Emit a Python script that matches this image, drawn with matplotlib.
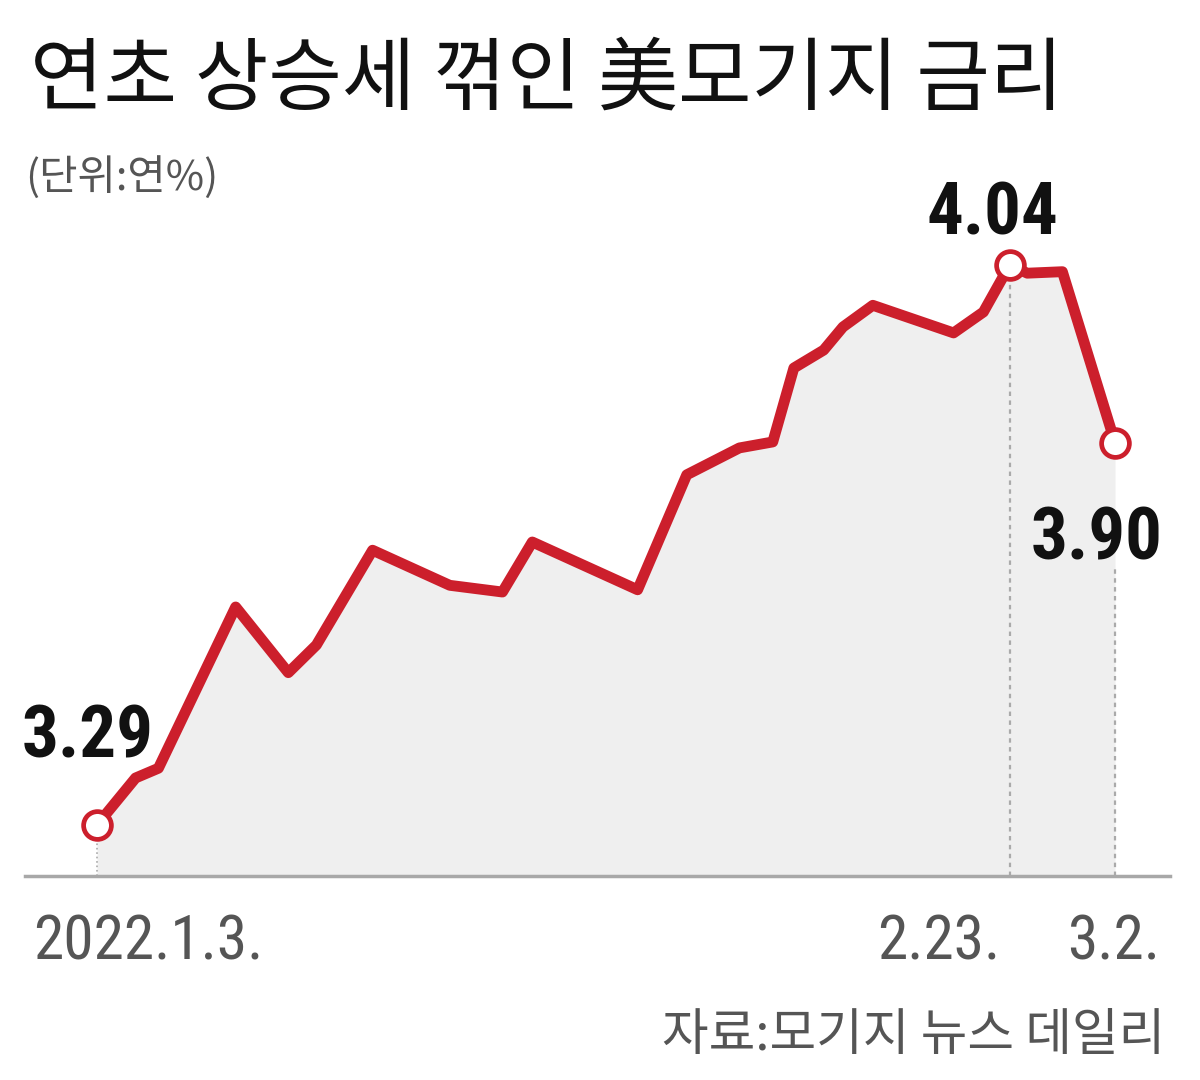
import matplotlib
matplotlib.use('Agg')
import matplotlib.pyplot as plt
from matplotlib import font_manager

# 미국 30년 고정 모기지 금리 (모기지 뉴스 데일리), x = 2022.1.3.부터 지난 일수
days = [0, 2.2, 3.5, 7.9, 10.9, 12.5, 15.7, 20.1, 23.1, 24.8, 30.8, 33.6,
        36.6, 38.5, 39.7, 41.4, 42.5, 44.2, 48.8, 50.5, 52.0, 53.0, 55.0, 58.0]
rates = [3.29, 3.353, 3.366, 3.582, 3.494, 3.531, 3.658, 3.611, 3.602, 3.669,
         3.605, 3.759, 3.795, 3.803, 3.902, 3.926, 3.957, 3.986, 3.949, 3.977,
         4.04, 4.029, 4.031, 3.802]

# 강조 점과 값 라벨
mark_idx = [0, 20, 23]
mark_text = ['3.29', '4.04', '3.90']
# 날짜 라벨
date_idx = [0, 20, 23]
date_text = ['2022.1.3.', '2.23.', '3.2.']

title = '연초 상승세 꺾인 美모기지 금리'
unit = '(단위:연%)'
source = '자료:모기지 뉴스 데일리'

RED = '#cc1f2c'
FILL = '#efefef'
GRAY = '#555555'

names = {f.name for f in font_manager.fontManager.ttflist}
narrow = 'DejaVu Sans'
scale = 0.82
for n, s in [('Liberation Sans Narrow', 1.0), ('Roboto Condensed', 0.92),
             ('DejaVu Sans Condensed', 0.85), ('Liberation Sans', 0.82)]:
    if n in names:
        narrow, scale = n, s
        break
KR = ['Noto Sans CJK KR', 'DejaVu Sans']

fig = plt.figure(figsize=(12, 10.8), dpi=100)
ax = fig.add_axes([25 / 1200, 204 / 1080, 1145 / 1200, 696 / 1080])

ybot, ytop = 3.2217, 4.1538
ax.set_ylim(ybot, ytop)
ax.set_xlim(-4.1, 61.13)

ax.fill_between(days, rates, ybot, color=FILL, lw=0, zorder=1)
ax.plot(days, rates, color=RED, lw=7.8, zorder=3, solid_joinstyle='round')

# 점선 안내선
ax.vlines(days[0], ybot, rates[0], color='#aaaaaa', lw=1.2, ls=':', zorder=2)
ax.vlines(days[20], ybot, rates[20], color='#aaaaaa', lw=1.6, ls=(0, (2, 2)), zorder=2)
ax.vlines(days[23], ybot, rates[23] - 0.165, color='#aaaaaa', lw=1.6, ls=(0, (2, 2)), zorder=2)

ax.plot([days[i] for i in mark_idx], [rates[i] for i in mark_idx], 'o',
        ms=20, mfc='white', mec=RED, mew=3.4, zorder=4)

offsets = [(-9, 68), (-17, 30), (-18, -117)]
for i, t, (dx, dy) in zip(mark_idx, mark_text, offsets):
    ax.annotate(t, (days[i], rates[i]), xytext=(dx, dy), textcoords='offset pixels',
                ha='center', va='baseline', fontsize=57 * scale, family=narrow,
                weight='semibold', color='#111111', zorder=5)

date_off = [(-64, 'left'), (-9, 'right'), (45, 'right')]
for i, t, (dx, ha) in zip(date_idx, date_text, date_off):
    ax.annotate(t, (days[i], 0), xycoords=('data', 'axes fraction'),
                xytext=(dx, -84), textcoords='offset pixels', ha=ha, va='baseline',
                fontsize=48 * scale, family=narrow, color=GRAY)

for s in ['top', 'right', 'left']:
    ax.spines[s].set_visible(False)
ax.spines['bottom'].set_color('#a8a8a8')
ax.spines['bottom'].set_linewidth(2.5)
ax.set_xticks([])
ax.set_yticks([])
ax.patch.set_alpha(0)

fig.text(30 / 1200, 1 - 104 / 1080, title, family=KR, fontsize=57.5, weight='medium',
         color='#111111', va='baseline', ha='left')
fig.text(25 / 1200, 1 - 190 / 1080, unit, family=KR, fontsize=30, color=GRAY,
         va='baseline', ha='left')
fig.text(1165 / 1200, 1 - 1050 / 1080, source, family=KR, fontsize=36.5, color=GRAY,
         va='baseline', ha='right')

fig.savefig('out.png', dpi=100)
